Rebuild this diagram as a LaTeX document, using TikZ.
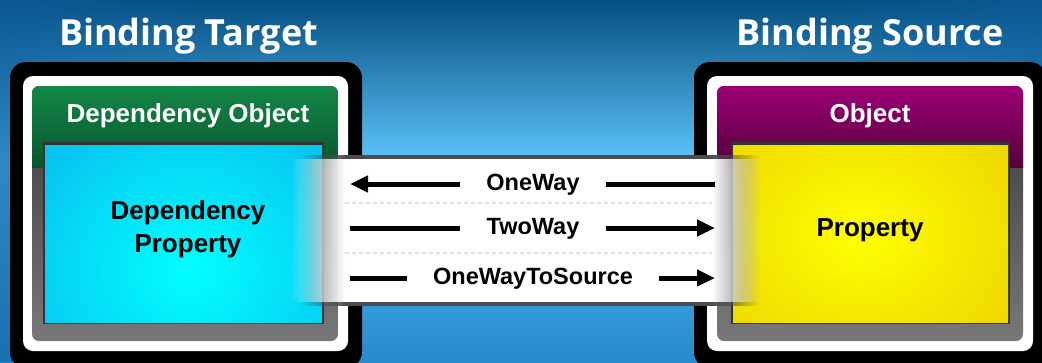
\documentclass[tikz,border=0pt]{standalone}
\usepackage{fontspec}
\setmainfont{Liberation Sans}
\newfontfamily\titlefont{Open Sans}
\usetikzlibrary{arrows.meta,fadings}
\definecolor{bgtop}{RGB}{5,78,128}
\definecolor{bgmid}{RGB}{92,196,250}
\definecolor{bgbot}{RGB}{38,138,205}
\definecolor{bgedge}{RGB}{15,95,160}
\definecolor{grn1}{RGB}{20,135,72}
\definecolor{grn2}{RGB}{8,85,45}
\definecolor{pur1}{RGB}{155,0,118}
\definecolor{pur2}{RGB}{85,0,60}
\definecolor{cyin}{RGB}{0,255,255}
\definecolor{cyout}{RGB}{15,150,228}
\definecolor{yin}{RGB}{255,255,0}
\definecolor{yout}{RGB}{222,180,0}
\definecolor{pnl1}{RGB}{95,95,95}
\definecolor{pnl2}{RGB}{120,120,120}
\tikzfading[name=fadeL, left color=transparent!100, right color=transparent!0]
\tikzfading[name=fadeR, left color=transparent!0, right color=transparent!100]
\tikzset{
  title/.style={font=\titlefont\bfseries\fontsize{36}{40}\selectfont, text=white, anchor=base, inner sep=0pt},
  boxlbl/.style={font=\bfseries\fontsize{26}{33}\selectfont, align=center, inner sep=0pt},
  bandlbl/.style={font=\bfseries\fontsize{23.5}{28}\selectfont, inner ysep=0pt, inner xsep=26pt, text height=17pt, text depth=5pt},
  conn/.style={line width=5pt, black},
  tip/.style={-{Triangle[length=18pt,width=16pt]}},
  dashln/.style={gray!25, line width=1.2pt, dash pattern=on 4pt off 3pt},
}
\begin{document}
\begin{tikzpicture}[x=1pt,y=-1pt]
\useasboundingbox (0,0) rectangle (1042,362);
% background
\begin{scope}
\clip (0,0) rectangle (1042,362);
\shade[top color=bgtop, bottom color=bgmid] (0,0) rectangle (1042,160);
\shade[top color=bgmid, bottom color=bgbot] (0,160) rectangle (1042,362);
\fill[bgedge, path fading=fadeR, opacity=0.6] (0,0) rectangle (260,362);
\fill[bgedge, path fading=fadeL, opacity=0.6] (782,0) rectangle (1042,362);
% left box
\fill[black, rounded corners=16] (10,62) rectangle (362,368);
\fill[white, rounded corners=10] (23,76) rectangle (348,351);
\begin{scope}
\clip[rounded corners=7] (32,86) rectangle (338,341);
\shade[top color=pnl1!60!black, bottom color=pnl2] (32,86) rectangle (338,341);
\shade[top color=grn1, bottom color=grn2] (32,86) rectangle (338,167);
\end{scope}
\fill[black!80] (43,142) rectangle (324,324);
\begin{scope}
\clip (45,145) rectangle (322,322);
\fill[cyout] (45,145) rectangle (322,322);
\shade[inner color=cyin, outer color=cyout] (190,270) ellipse [x radius=330, y radius=300];
\end{scope}
% right box
\fill[black, rounded corners=16] (694,62) rectangle (1046,368);
\fill[white, rounded corners=10] (707,76) rectangle (1033,351);
\begin{scope}
\clip[rounded corners=7] (717,86) rectangle (1023,341);
\shade[top color=pnl1!60!black, bottom color=pnl2] (717,86) rectangle (1023,341);
\shade[top color=pur1, bottom color=pur2] (717,86) rectangle (1023,167);
\end{scope}
\fill[black!80] (731,142) rectangle (1010,324);
\begin{scope}
\clip (733,145) rectangle (1008,322);
\fill[yout] (733,145) rectangle (1008,322);
\shade[inner color=yin, outer color=yout] (860,235) ellipse [x radius=340, y radius=280];
\end{scope}
% band
\fill[black!70] (345,155) rectangle (712,306);
\fill[black!70, path fading=fadeL] (300,155) rectangle (345,306);
\fill[black!70, path fading=fadeR] (712,155) rectangle (760,306);
\fill[white] (345,159) rectangle (712,302);
\fill[white, path fading=fadeL] (290,159) rectangle (345,302);
\fill[white, path fading=fadeR] (712,159) rectangle (762,302);
\end{scope}
\coordinate (tE) at (350,0);
\coordinate (sE) at (715,0);
\coordinate (dA) at (345,203);
\coordinate (dB) at (712,203);
\coordinate (dC) at (345,253);
\coordinate (dD) at (712,253);
\draw[dashln] (dA) -- (dB);
\draw[dashln] (dC) -- (dD);
% texts
\node[title] (titleT) at (188.5,45) {Binding Target};
\node[title] (titleS) at (870,45) {Binding Source};
\node[boxlbl, text=white] (headT) at (188,115.5) {Dependency Object};
\node[boxlbl, text=white] (headS) at (870,115.5) {Object};
\node[boxlbl] (propT) at (188,229) {Dependency\\Property};
\node[boxlbl] (propS) at (870,230) {Property};
\node[bandlbl] (one) at (533,184) {OneWay};
\node[bandlbl] (two) at (533,228) {TwoWay};
\node[bandlbl] (ots) at (533,278) {OneWayToSource};
% connectors
\draw[conn, tip] (one.west) -- (one.west -| tE);
\draw[conn] (one.east) -- (one.east -| sE);
\draw[conn] (two.west) -- (two.west -| tE);
\draw[conn, tip] (two.east) -- (two.east -| sE);
\draw[conn] (ots.west) -- (ots.west -| tE);
\draw[conn, tip] (ots.east) -- (ots.east -| sE);
\end{tikzpicture}
\end{document}
